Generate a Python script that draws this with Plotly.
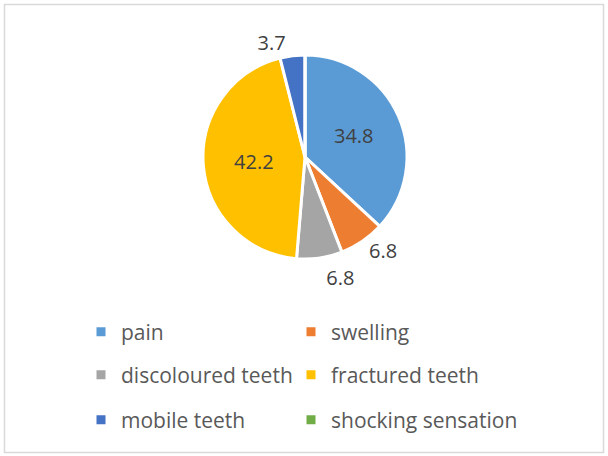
import plotly.graph_objects as go

categories = ["pain", "swelling", "discoloured teeth", "fractured teeth", "mobile teeth", "shocking sensation"]
values = [34.8, 6.8, 6.8, 42.2, 3.7, 0]
colors = ["#5B9BD5", "#ED7D31", "#A5A5A5", "#FFC000", "#4472C4", "#70AD47"]
text_pos = ["inside", "outside", "outside", "inside", "outside", "none"]

W, H = 608, 456
FONT = "Open Sans"
LABEL_COLOR = "#404040"

fig = go.Figure()
fig.add_trace(go.Pie(
    labels=categories,
    values=values,
    marker=dict(colors=colors, line=dict(color="white", width=3)),
    sort=False,
    direction="clockwise",
    rotation=0,
    texttemplate='<span style="color:' + LABEL_COLOR + ';fill-opacity:1">%{value}</span>',
    textposition=text_pos,
    insidetextfont=dict(family=FONT, size=20, color=LABEL_COLOR),
    outsidetextfont=dict(family=FONT, size=20, color="rgba(0,0,0,0)"),
    insidetextorientation="horizontal",
    showlegend=False,
    domain=dict(x=[203 / W, 407 / W], y=[1 - 259 / H, 1 - 55 / H]),
    hoverinfo="label+value",
))

# legend layout: 2 columns x 3 rows, one legend per entry
col_x = [81, 291]
row_y = [332, 375, 420]
legend_layout = {}
for i, (cat, col) in enumerate(zip(categories, colors)):
    name = "legend" if i == 0 else f"legend{i + 1}"
    fig.add_trace(go.Scatter(
        x=[None], y=[None], mode="markers",
        marker=dict(symbol="square", size=9, color=col),
        name=cat, legend=name, showlegend=True,
    ))
    legend_layout[name] = dict(
        orientation="h", xanchor="left", yanchor="middle",
        x=col_x[i % 2] / W, y=1 - row_y[i // 2] / H,
        font=dict(family=FONT, size=21, color="#595959"),
        bgcolor="rgba(0,0,0,0)", itemwidth=30,
    )

fig.update_layout(
    width=W, height=H,
    margin=dict(l=0, r=0, t=0, b=0),
    paper_bgcolor="white", plot_bgcolor="white",
    xaxis=dict(visible=False), yaxis=dict(visible=False),
    shapes=[dict(type="rect", xref="paper", yref="paper",
                 x0=4.5 / W, x1=603.5 / W, y0=1 - 452.5 / H, y1=1 - 4.5 / H,
                 line=dict(color="#D9D9D9", width=1.5), fillcolor="rgba(0,0,0,0)")],
    **legend_layout,
)

fig.write_html("out.html", config={"displayModeBar": False},
               post_script="document.body.style.margin='0';document.body.style.overflow='hidden';")
